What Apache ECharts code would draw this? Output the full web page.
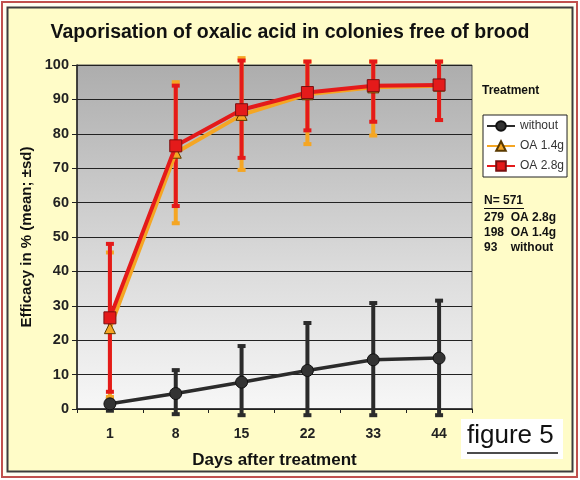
<!DOCTYPE html>
<html>
<head>
<meta charset="utf-8">
<script src="https://cdn.jsdelivr.net/npm/echarts@6/dist/echarts.min.js"></script>
<style>
  html, body { margin: 0; padding: 0; background: #ffffff; }
  #chart { width: 580px; height: 480px; }
</style>
</head>
<body>
<div id="chart"></div>
<script>
// days after treatment (x categories)
var days = ['1', '8', '15', '22', '33', '44'];

// mean efficacy in %
var without = [1.5, 4.5, 7.8, 11.2, 14.3, 14.8];
var oa14 = [23.5, 74.5, 85.5, 91.5, 93.5, 94];
var oa28 = [26.5, 76.5, 87, 92, 94, 94.2];

// error bars (mean - sd, mean + sd)
var withoutLow = [-0.5, -1.5, -1.8, -1.8, -1.8, -1.8];
var withoutHigh = [3, 11.3, 18.3, 25, 30.8, 31.5];
var oa14Low = [3.5, 54, 69.5, 77, 79.5, 84];
var oa14High = [45.5, 95, 102, 101, 101, 101];
var oa28Low = [5, 59, 73, 81, 83.5, 84];
var oa28High = [48, 94, 101.3, 101, 101, 101];

// sample sizes shown in the side note
var sampleLines = ['279  OA 2.8g', '198  OA 1.4g', '93    without'];

var FONT = '"Liberation Sans", Arial, sans-serif';

var chart = echarts.init(document.getElementById('chart'));

//build [index, low, high] rows for the error bar series
function errRows(low, high) {
    return low.map(function (v, i) {
        return [i, v, high[i]];
    });
}

//draws one vertical bar with small caps
function errRenderer(color) {
    return function (params, api) {
        var top = api.coord([api.value(0), api.value(2)]);
        var bot = api.coord([api.value(0), api.value(1)]);
        var cap = 4;
        var st = { stroke: color, lineWidth: 4 };
        return {
            type: 'group',
            children: [
                { type: 'line', shape: { x1: top[0], y1: top[1], x2: bot[0], y2: bot[1] }, style: st },
                { type: 'line', shape: { x1: top[0] - cap, y1: top[1], x2: top[0] + cap, y2: top[1] }, style: st },
                { type: 'line', shape: { x1: bot[0] - cap, y1: bot[1], x2: bot[0] + cap, y2: bot[1] }, style: st }
            ]
        };
    };
}

var option = {
    animation: false,
    backgroundColor: '#ffffff',
    textStyle: { fontFamily: FONT },
    title: {
        text: 'Vaporisation of oxalic acid in colonies free of brood',
        left: 'center',
        top: 18,
        textStyle: { fontSize: 19.5, fontWeight: 'bold', color: '#111', fontFamily: FONT }
    },
    graphic: [
        //frame: red outer line, dark inner line, yellow page
        { type: 'rect', z: -10, shape: { x: 2, y: 2, width: 575, height: 475 },
          style: { fill: '#fffef2', stroke: '#c0504d', lineWidth: 2 } },
        { type: 'rect', z: -9, shape: { x: 7.5, y: 7.5, width: 565, height: 464 },
          style: { fill: '#fffcc8', stroke: '#3c3c3c', lineWidth: 2 } },
        { type: 'text', left: 482, top: 85,
          style: { text: 'Treatment', font: 'bold 12px ' + FONT, fill: '#111' } },
        { type: 'text', left: 484, top: 195,
          style: { text: 'N= 571', font: 'bold 12px ' + FONT, fill: '#111' } },
        { type: 'line', shape: { x1: 484, y1: 208.5, x2: 524, y2: 208.5 },
          style: { stroke: '#111', lineWidth: 1 } },
        { type: 'text', left: 484, top: 210,
          style: { text: sampleLines.join('\n'), font: 'bold 12px ' + FONT, fill: '#111', lineHeight: 15 } },
        //figure label box
        { type: 'rect', shape: { x: 461, y: 419, width: 102, height: 40 },
          style: { fill: '#ffffff' } },
        { type: 'text', left: 467, top: 423,
          style: { text: 'figure 5', font: '26px ' + FONT, fill: '#111' } },
        { type: 'line', shape: { x1: 467, y1: 453, x2: 558, y2: 453 },
          style: { stroke: '#111', lineWidth: 1.5 } }
    ],
    legend: {
        orient: 'vertical',
        left: 483,
        top: 115,
        itemWidth: 28,
        itemHeight: 12,
        itemGap: 8,
        padding: [5, 3, 5, 3],
        backgroundColor: '#ffffff',
        borderColor: '#222',
        borderWidth: 1,
        textStyle: { fontSize: 12, color: '#333', fontFamily: FONT },
        data: ['without', 'OA 1.4g', 'OA 2.8g']
    },
    grid: {
        left: 77,
        right: 108,
        top: 65,
        bottom: 71,
        show: true,
        borderColor: '#555',
        borderWidth: 1,
        backgroundColor: {
            type: 'linear', x: 0, y: 0, x2: 0, y2: 1,
            colorStops: [
                { offset: 0, color: '#adadad' },
                { offset: 0.6, color: '#dcdcdc' },
                { offset: 1, color: '#f7f7f7' }
            ]
        }
    },
    xAxis: {
        type: 'category',
        data: days,
        boundaryGap: true,
        name: 'Days after treatment',
        nameLocation: 'middle',
        nameGap: 43,
        nameTextStyle: { fontSize: 17, fontWeight: 'bold', color: '#111', fontFamily: FONT },
        axisLine: { lineStyle: { color: '#222', width: 1.5 } },
        axisTick: { show: true, length: 4, lineStyle: { color: '#222' } },
        axisLabel: { fontSize: 14, fontWeight: 'bold', color: '#222', margin: 18 }
    },
    yAxis: {
        type: 'value',
        min: 0,
        max: 100,
        interval: 10,
        name: 'Efficacy in % (mean; \u00b1sd)',
        nameLocation: 'middle',
        nameGap: 41,
        nameTextStyle: { fontSize: 15, fontWeight: 'bold', color: '#111', fontFamily: FONT },
        axisLine: { show: true, lineStyle: { color: '#222', width: 1.5 } },
        axisTick: { show: true, length: 5, lineStyle: { color: '#222' } },
        axisLabel: { fontSize: 14.5, fontWeight: 'bold', color: '#222', margin: 8 },
        splitLine: { show: true, lineStyle: { color: '#222', width: 1.2 } }
    },
    series: [
        {
            type: 'custom',
            name: 'errWithout',
            renderItem: errRenderer('#2b2b2b'),
            data: errRows(withoutLow, withoutHigh),
            clip: false,
            z: 2
        },
        {
            type: 'custom',
            name: 'err14',
            renderItem: errRenderer('#f5a623'),
            data: errRows(oa14Low, oa14High),
            clip: false,
            z: 2
        },
        {
            type: 'custom',
            name: 'err28',
            renderItem: errRenderer('#e41a1a'),
            data: errRows(oa28Low, oa28High),
            clip: false,
            z: 3
        },
        {
            name: 'OA 1.4g',
            type: 'line',
            data: oa14,
            symbol: 'triangle',
            symbolSize: 11,
            lineStyle: { color: '#f5a623', width: 4 },
            itemStyle: { color: '#f5a623', borderColor: '#5a3a00', borderWidth: 1 },
            z: 4
        },
        {
            name: 'OA 2.8g',
            type: 'line',
            data: oa28,
            symbol: 'rect',
            symbolSize: 12,
            lineStyle: { color: '#e41a1a', width: 4 },
            itemStyle: { color: '#e41a1a', borderColor: '#7a1010', borderWidth: 1 },
            z: 5
        },
        {
            name: 'without',
            type: 'line',
            data: without,
            symbol: 'circle',
            symbolSize: 12,
            lineStyle: { color: '#2b2b2b', width: 3.5 },
            itemStyle: { color: '#333', borderColor: '#111', borderWidth: 1 },
            z: 6
        }
    ]
};

if (option && typeof option === 'object') {
    chart.setOption(option, true);
}
</script>
</body>
</html>
